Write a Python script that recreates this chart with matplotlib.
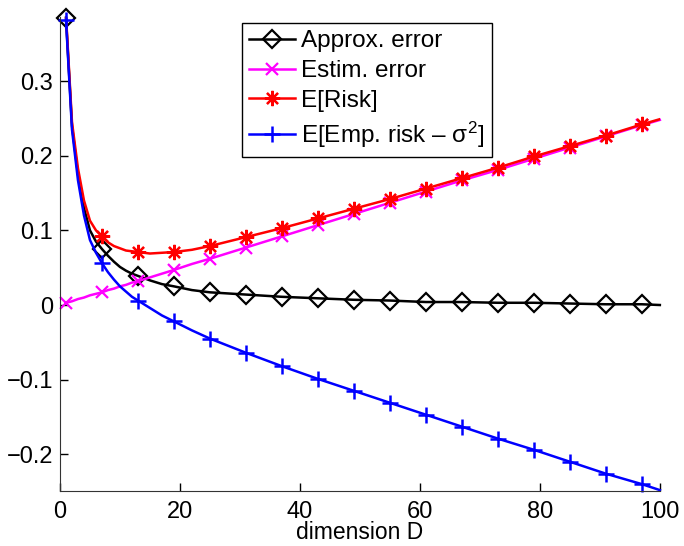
import matplotlib
matplotlib.use("Agg")
import matplotlib.pyplot as plt

plt.rcParams['font.family'] = ['Liberation Sans', 'DejaVu Sans']
plt.rcParams['mathtext.fontset'] = 'custom'
plt.rcParams['mathtext.rm'] = 'Liberation Sans'
plt.rcParams['mathtext.it'] = 'Liberation Sans'

# dimension D (dense near the start so the curves stay smooth)
dims = [1, 2, 3, 4, 5, 6, 7, 8, 9, 10, 11, 12, 13, 15, 17, 19, 22, 25,
        31, 37, 43, 49, 55, 61, 67, 73, 79, 85, 91, 97, 100]
marker_dims = [1, 7, 13, 19, 25, 31, 37, 43, 49, 55, 61, 67, 73, 79, 85, 91, 97]

approx_error = [0.385, 0.240, 0.175, 0.130, 0.100, 0.085, 0.075, 0.066, 0.058,
                0.051, 0.046, 0.042, 0.039, 0.033, 0.028, 0.025, 0.020, 0.017,
                0.014, 0.011, 0.009, 0.007, 0.006, 0.004, 0.004, 0.003, 0.003,
                0.002, 0.001, 0.001, 0.000]
estim_error = [0.003, 0.005, 0.008, 0.010, 0.013, 0.015, 0.017, 0.020, 0.022,
               0.025, 0.027, 0.030, 0.032, 0.037, 0.042, 0.047, 0.055, 0.062,
               0.077, 0.092, 0.107, 0.122, 0.137, 0.152, 0.167, 0.181, 0.196,
               0.211, 0.226, 0.241, 0.248]
risk = [0.388, 0.245, 0.183, 0.140, 0.113, 0.100, 0.092, 0.084, 0.079,
        0.076, 0.073, 0.072, 0.071, 0.069, 0.070, 0.071, 0.074, 0.079,
        0.091, 0.103, 0.116, 0.129, 0.142, 0.156, 0.170, 0.184, 0.199,
        0.213, 0.227, 0.242, 0.249]
emp_risk = [0.382, 0.235, 0.167, 0.120, 0.087, 0.070, 0.056, 0.044, 0.034,
            0.025, 0.018, 0.011, 0.006, -0.004, -0.014, -0.022, -0.034, -0.045,
            -0.064, -0.082, -0.099, -0.115, -0.131, -0.147, -0.163, -0.179, -0.194,
            -0.210, -0.226, -0.240, -0.248]

labels = ["Approx. error", "Estim. error", "E[Risk]",
          "E[Emp. risk \u2013 \u03c3$^{2}$]"]

marks = [i for i, d in enumerate(dims) if d in marker_dims]

fig = plt.figure(figsize=(6.84, 5.46), dpi=100)
ax = fig.add_axes([0.0877, 0.101, 0.877, 0.868])

ax.plot(dims, approx_error, color='black', lw=1.8, marker='D', ms=9,
        mfc='none', mec='black', mew=1.6, markevery=marks, clip_on=False,
        label=labels[0])
ax.plot(dims, estim_error, color='magenta', lw=1.8, marker='x', ms=8,
        mew=1.6, markevery=marks, clip_on=False, label=labels[1])
# the first E[Risk] point sits just above the axis top, so its marker is not shown
ax.plot(dims, risk, color='red', lw=1.8, marker=(8, 2, 0), ms=11,
        mew=1.6, markevery=marks[1:], label=labels[2])
ax.plot(dims, emp_risk, color='blue', lw=1.8, marker='+', ms=12,
        mew=1.8, markevery=marks, clip_on=False, label=labels[3])

ax.set_xlim(0, 100)
ax.set_ylim(-0.249, 0.386)
ax.set_xticks([0, 20, 40, 60, 80, 100])
ax.set_yticks([-0.2, -0.1, 0, 0.1, 0.2, 0.3])
ax.set_yticklabels(['\u22120.2', '\u22120.1', '0', '0.1', '0.2', '0.3'])
ax.set_xlabel("dimension D", fontsize=16.5, labelpad=-1)
ax.tick_params(direction='in', length=6, labelsize=17, width=1, pad=5)
ax.tick_params(axis='x', pad=7)

for side in ['top', 'right']:
    ax.spines[side].set_visible(False)
for side in ['left', 'bottom']:
    ax.spines[side].set_color('#333333')

leg = ax.legend(loc='upper left', bbox_to_anchor=(0.303, 0.987), fontsize=17.5,
                numpoints=1, fancybox=False, framealpha=1, edgecolor='black',
                handlelength=1.9, handletextpad=0.25, borderpad=0.3,
                labelspacing=0.32, borderaxespad=0)
leg.get_frame().set_linewidth(1.0)

fig.savefig("out.png", dpi=100)
